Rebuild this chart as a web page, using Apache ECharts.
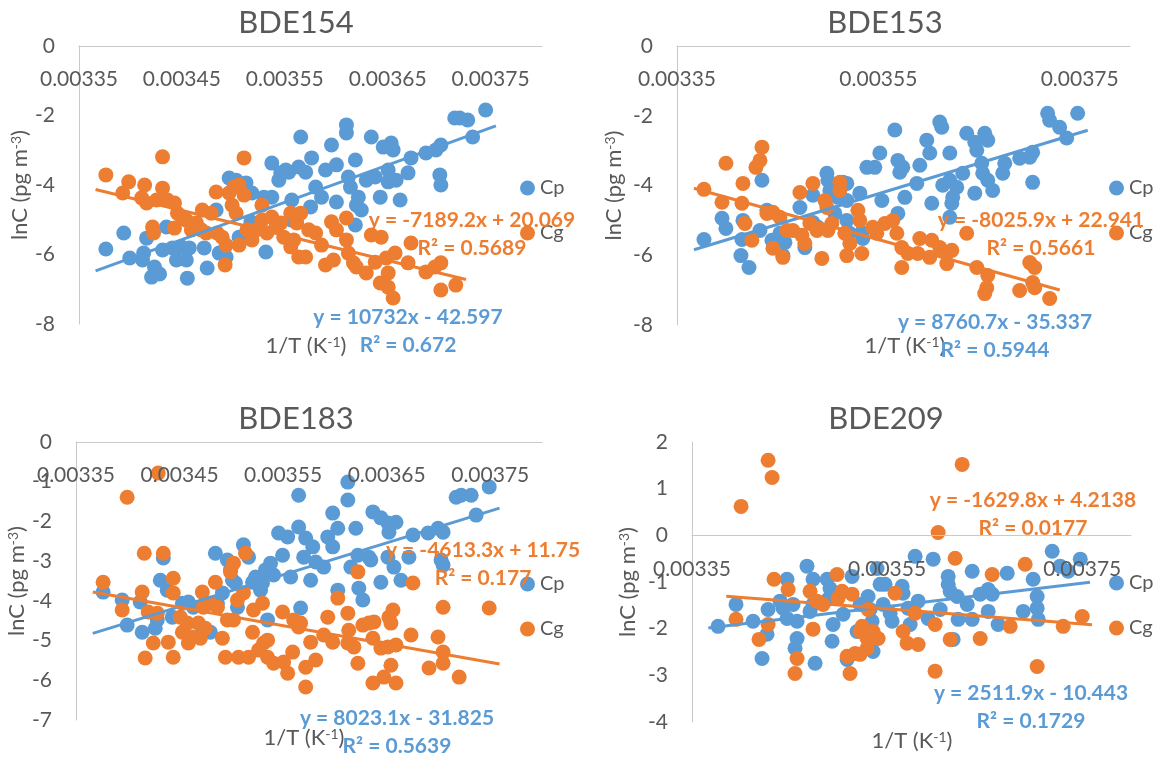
<!DOCTYPE html>
<html>
<head>
<meta charset="utf-8">
<script src="https://cdn.jsdelivr.net/npm/echarts@6/dist/echarts.min.js"></script>
<style>
  html, body { margin: 0; padding: 0; background: #ffffff; }
  #chart { width: 1160px; height: 762px; }
</style>
</head>
<body>
<div id="chart"></div>
<script>
// ---- data: [1/T (K^-1), lnC] pairs per congener and phase ----
const panelTitles = ['BDE154', 'BDE153', 'BDE183', 'BDE209'];

const bde154Cp = [[0.0033761,-5.84],[0.0033935,-5.38],[0.0033993,-6.10],[0.0034157,-5.53],[0.0034128,-5.96],[0.0034118,-6.16],[0.0034234,-6.36],[0.0034205,-6.65],[0.0034283,-6.56],[0.003435,-5.21],[0.0034312,-5.87],[0.0034408,-5.81],[0.0034447,-6.16],[0.0034495,-5.78],[0.0034543,-6.16],[0.0034553,-6.68],[0.0034572,-5.81],[0.0034717,-5.81],[0.0034746,-6.39],[0.0034833,-4.72],[0.0034862,-5.96],[0.003493,-6.07],[0.0034959,-3.80],[0.0035027,-3.86],[0.0035123,-3.94],[0.0035133,-4.20],[0.0035181,-4.23],[0.0035056,-5.50],[0.0035171,-5.06],[0.0035316,-5.93],[0.0035297,-4.35],[0.0035374,-4.35],[0.0035374,-3.37],[0.0035442,-3.86],[0.0035461,-3.65],[0.0035539,-3.63],[0.0035568,-4.43],[0.0035568,-5.01],[0.0035635,-3.48],[0.0035655,-2.62],[0.003551,-3.57],[0.0035761,-3.22],[0.0035703,-3.63],[0.00358,-4.06],[0.0035751,-4.63],[0.0035857,-4.35],[0.0035954,-2.85],[0.0035896,-3.57],[0.0036002,-3.42],[0.0036002,-4.49],[0.0036099,-2.27],[0.0036099,-2.50],[0.0036186,-3.28],[0.0036118,-3.77],[0.0036138,-4.06],[0.0036215,-4.35],[0.0036196,-4.58],[0.0036244,-4.72],[0.0036186,-5.15],[0.0036292,-3.86],[0.0036341,-2.62],[0.0036379,-3.77],[0.0036428,-4.35],[0.0036457,-2.91],[0.0036534,-2.79],[0.0036553,-2.99],[0.0036505,-3.57],[0.0036505,-3.91],[0.0036582,-3.86],[0.0036621,-4.43],[0.0036698,-3.65],[0.0036727,-3.22],[0.0036872,-3.08],[0.0036969,-2.99],[0.0037017,-2.85],[0.0037007,-3.71],[0.0037017,-4.00],[0.0037152,-2.07],[0.00372,-2.07],[0.0037278,-2.13],[0.0037326,-2.62],[0.0037452,-1.84]];

const bde154Cg = [[0.0033761,-3.71],[0.0033925,-4.23],[0.0033983,-3.91],[0.0034138,-4.00],[0.0034109,-4.37],[0.0034157,-4.52],[0.0034215,-5.21],[0.0034225,-5.38],[0.0034254,-4.43],[0.0034312,-3.19],[0.0034312,-4.09],[0.003436,-4.43],[0.0034428,-4.52],[0.0034457,-4.81],[0.0034428,-5.24],[0.0034505,-4.95],[0.0034543,-5.01],[0.0034592,-5.29],[0.003464,-5.09],[0.0034688,-5.29],[0.0034698,-4.72],[0.0034737,-5.38],[0.0034785,-4.81],[0.0034833,-4.20],[0.0034843,-5.38],[0.0034891,-5.50],[0.003493,-5.73],[0.003492,-6.30],[0.0034959,-4.23],[0.0034988,-4.58],[0.0035027,-4.81],[0.0035007,-4.06],[0.0035056,-4.00],[0.0035104,-3.22],[0.0035104,-4.29],[0.0035056,-5.73],[0.0035133,-5.29],[0.0035181,-5.58],[0.003522,-5.29],[0.0035278,-4.58],[0.0035278,-5.01],[0.0035326,-5.38],[0.0035374,-4.92],[0.0035413,-5.21],[0.0035461,-5.09],[0.003549,-5.50],[0.0035558,-4.81],[0.0035558,-5.78],[0.0035616,-5.09],[0.0035635,-6.07],[0.0035655,-4.81],[0.0035587,-5.58],[0.0035732,-5.29],[0.00358,-5.38],[0.0035703,-6.07],[0.0035857,-5.73],[0.0035954,-5.06],[0.0036002,-5.29],[0.0036099,-4.95],[0.0035896,-6.30],[0.0035973,-6.16],[0.0036099,-5.58],[0.0036118,-5.96],[0.0036167,-6.24],[0.0036196,-6.36],[0.0036292,-6.53],[0.0036341,-5.44],[0.0036437,-5.50],[0.0036379,-6.22],[0.0036428,-6.82],[0.0036505,-6.94],[0.0036553,-7.25],[0.0036505,-6.53],[0.0036486,-6.10],[0.0036572,-5.96],[0.0036698,-6.24],[0.0036727,-5.67],[0.0036872,-6.50],[0.0036959,-6.36],[0.0037017,-6.24],[0.0037017,-7.02],[0.0037162,-6.88]];

const bde153Cp = [[0.0033768,-5.55],[0.0033947,-4.94],[0.0033986,-5.23],[0.0034135,-6.01],[0.0034215,-6.35],[0.0034155,-5.00],[0.0034145,-5.55],[0.0034344,-3.85],[0.0034324,-5.29],[0.0034393,-4.71],[0.0034443,-5.57],[0.0034522,-5.37],[0.0034572,-5.63],[0.0034552,-6.01],[0.0034721,-4.63],[0.003477,-5.78],[0.003485,-4.28],[0.003485,-5.06],[0.00349,-5.20],[0.0034989,-3.65],[0.0034999,-3.85],[0.0035019,-4.14],[0.0035098,-4.34],[0.0035068,-4.80],[0.0035148,-3.91],[0.0035187,-3.94],[0.0035187,-4.43],[0.0035187,-5.00],[0.0035217,-5.37],[0.0035316,-4.22],[0.0035336,-5.34],[0.0035346,-5.52],[0.0035386,-3.48],[0.0035465,-3.48],[0.0035515,-3.07],[0.0035535,-4.43],[0.0035664,-2.41],[0.0035694,-3.28],[0.0035743,-3.48],[0.0035713,-3.62],[0.0035763,-4.34],[0.0035694,-4.80],[0.0035882,-3.94],[0.0035912,-3.42],[0.0035981,-2.70],[0.0036011,-3.07],[0.0036031,-4.51],[0.003611,-2.18],[0.003613,-2.33],[0.003614,-3.99],[0.003621,-3.07],[0.003621,-3.85],[0.0036239,-4.34],[0.0036279,-4.05],[0.003623,-4.51],[0.003621,-4.91],[0.0036339,-3.65],[0.0036378,-2.50],[0.0036458,-4.22],[0.0036458,-2.76],[0.0036478,-2.99],[0.0036557,-2.50],[0.0036587,-2.70],[0.0036527,-3.36],[0.0036537,-3.65],[0.0036587,-3.85],[0.0036636,-4.14],[0.0036736,-3.65],[0.0036756,-3.36],[0.0036904,-3.22],[0.0037004,-3.19],[0.0037033,-3.05],[0.0037033,-3.91],[0.0037182,-1.93],[0.0037202,-2.13],[0.0037301,-2.33],[0.0037371,-2.64],[0.003748,-1.93]];

const bde153Cg = [[0.0033768,-4.11],[0.0033986,-3.36],[0.0033947,-4.48],[0.0034155,-3.94],[0.0034145,-4.51],[0.0034175,-5.09],[0.0034244,-5.57],[0.0034344,-2.90],[0.0034324,-3.28],[0.0034284,-3.48],[0.0034393,-4.80],[0.0034453,-4.77],[0.0034522,-4.91],[0.0034453,-5.80],[0.0034552,-6.06],[0.0034592,-5.29],[0.0034651,-5.29],[0.0034721,-4.20],[0.0034741,-5.43],[0.003477,-5.66],[0.003485,-3.94],[0.003482,-5.09],[0.003489,-5.29],[0.0034939,-6.09],[0.0034969,-4.43],[0.0034989,-4.63],[0.0034999,-5.29],[0.0035118,-3.91],[0.0035118,-4.14],[0.0035038,-5.09],[0.0035167,-5.37],[0.0035187,-6.01],[0.0035217,-5.66],[0.0035297,-4.71],[0.0035336,-5.95],[0.0035316,-5.00],[0.0035445,-5.20],[0.0035485,-5.37],[0.0035565,-5.09],[0.0035644,-5.00],[0.0035684,-5.37],[0.0035733,-5.78],[0.0035733,-6.35],[0.0035793,-5.95],[0.0035892,-5.95],[0.0035912,-5.52],[0.0036031,-5.57],[0.0036011,-6.06],[0.003611,-5.78],[0.003618,-5.95],[0.003623,-5.86],[0.003618,-6.24],[0.0036378,-5.37],[0.0036478,-6.35],[0.0036587,-6.58],[0.0036577,-6.93],[0.0036557,-7.10],[0.0036904,-7.01],[0.0037004,-6.21],[0.0037053,-6.35],[0.0037033,-6.78],[0.0037053,-6.93],[0.0037202,-7.24]];

const bde183Cp = [[0.0033762,-3.78],[0.0033946,-3.98],[0.0033994,-4.61],[0.0034139,-4.79],[0.003412,-4.03],[0.0034265,-4.69],[0.0034285,-4.48],[0.0034314,-3.48],[0.0034343,-2.92],[0.0034381,-3.73],[0.003443,-4.41],[0.0034527,-4.06],[0.0034585,-4.03],[0.0034633,-4.16],[0.003473,-4.74],[0.0034798,-4.79],[0.0034846,-2.80],[0.0034866,-4.06],[0.0034914,-3.80],[0.0034962,-2.97],[0.0034992,-3.22],[0.0035011,-3.48],[0.003504,-3.55],[0.0035059,-4.16],[0.0035117,-2.59],[0.0035166,-2.90],[0.0035205,-3.53],[0.0035234,-3.40],[0.0035282,-3.73],[0.0035301,-3.55],[0.003533,-3.22],[0.003535,-4.48],[0.0035379,-3.05],[0.0035408,-3.35],[0.0035456,-2.29],[0.0035544,-2.39],[0.0035495,-2.85],[0.0035573,-3.40],[0.003565,-1.34],[0.003565,-2.14],[0.0035669,-4.18],[0.0035718,-2.42],[0.0035786,-2.64],[0.0035699,-2.90],[0.0035815,-3.02],[0.0035892,-3.15],[0.0035766,-3.48],[0.0035979,-1.79],[0.0035931,-2.39],[0.0036028,-2.17],[0.0035979,-2.64],[0.0036125,-1.01],[0.0036125,-1.46],[0.0036202,-2.17],[0.0036154,-3.15],[0.0036222,-2.85],[0.0036328,-2.90],[0.0036347,-2.97],[0.0036028,-3.73],[0.0036231,-3.68],[0.003627,-3.98],[0.0036367,-1.76],[0.0036444,-1.91],[0.0036512,-2.04],[0.003659,-2.02],[0.0036522,-2.27],[0.0036512,-2.90],[0.003657,-3.15],[0.0036444,-3.53],[0.0036638,-3.48],[0.0036715,-2.90],[0.0036754,-2.34],[0.00369,-2.29],[0.0036996,-2.17],[0.0037045,-2.27],[0.0037025,-2.97],[0.0037045,-3.10],[0.0037171,-1.39],[0.0037219,-1.34],[0.0037316,-1.34],[0.0037364,-1.84],[0.003749,-1.13]];

const bde183Cg = [[0.0033762,-3.53],[0.0033946,-4.23],[0.0033994,-1.39],[0.0034139,-3.78],[0.0034159,-2.80],[0.0034197,-4.28],[0.0034246,-5.06],[0.0034168,-5.44],[0.0034285,-4.31],[0.0034294,-0.78],[0.0034343,-2.80],[0.0034391,-5.04],[0.0034439,-3.43],[0.0034439,-3.80],[0.0034439,-5.42],[0.0034507,-4.41],[0.0034527,-4.79],[0.0034575,-4.56],[0.0034585,-5.06],[0.0034623,-4.91],[0.0034682,-4.56],[0.003472,-3.78],[0.0034701,-4.94],[0.003473,-4.16],[0.0034749,-4.69],[0.0034798,-4.06],[0.0034846,-3.53],[0.0034866,-4.16],[0.0034914,-4.94],[0.0034943,-5.42],[0.0034962,-4.48],[0.0034992,-3.27],[0.0035021,-3.05],[0.0035021,-4.48],[0.0035059,-3.98],[0.0035069,-5.42],[0.0035137,-2.80],[0.0035117,-3.80],[0.0035166,-5.42],[0.0035205,-4.79],[0.0035214,-4.23],[0.0035263,-5.24],[0.0035301,-4.06],[0.0035311,-5.06],[0.003535,-4.99],[0.003535,-5.42],[0.0035408,-5.57],[0.0035495,-4.28],[0.0035544,-5.82],[0.0035592,-5.29],[0.0035602,-4.48],[0.003565,-4.66],[0.0035669,-4.56],[0.0035505,-5.54],[0.0035718,-5.67],[0.0035718,-6.17],[0.0035766,-5.04],[0.0035815,-5.49],[0.0035892,-4.86],[0.0035931,-4.41],[0.0035979,-5.04],[0.0036028,-3.93],[0.0036125,-4.31],[0.0036125,-5.06],[0.0036134,-4.74],[0.0036183,-5.16],[0.0036222,-5.57],[0.0036222,-3.27],[0.003627,-4.61],[0.0036328,-4.56],[0.0036377,-4.53],[0.0036367,-4.94],[0.0036367,-6.07],[0.0036444,-5.19],[0.0036473,-5.92],[0.0036522,-4.41],[0.0036561,-4.23],[0.0036541,-4.56],[0.0036512,-5.16],[0.0036541,-5.62],[0.003659,-6.07],[0.003659,-5.11],[0.0036735,-4.86],[0.0036754,-3.55],[0.0036909,-5.69],[0.0036996,-4.91],[0.0037045,-4.16],[0.0037045,-5.29],[0.0037045,-5.57],[0.00372,-5.92],[0.003749,-4.18]];

const bde209Cp = [[0.0033767,-1.95],[0.0033951,-1.48],[0.0034126,-1.84],[0.0034218,-2.64],[0.0034269,-2.12],[0.003428,-1.59],[0.0034403,-1.41],[0.0034474,-0.94],[0.0034433,-1.56],[0.0034474,-1.78],[0.0034556,-2.42],[0.0034577,-2.21],[0.0034577,-1.84],[0.0034536,-1.48],[0.0034679,-0.66],[0.0034741,-0.94],[0.0034741,-1.48],[0.003471,-1.63],[0.0034762,-2.74],[0.0034885,-0.94],[0.0034915,-1.14],[0.0034895,-1.37],[0.0034946,-1.91],[0.0034936,-2.27],[0.0034997,-1.26],[0.0035049,-1.69],[0.003509,-2.66],[0.0035141,-0.88],[0.0035192,-2.06],[0.0035223,-1.48],[0.0035305,-1.31],[0.0035346,-1.84],[0.0035326,-2.06],[0.0035356,-2.49],[0.0035397,-0.71],[0.0035428,-1.05],[0.0035787,-0.45],[0.0035972,-0.51],[0.0036126,-0.88],[0.0036126,-1.05],[0.0036146,-1.20],[0.0036218,-1.31],[0.0036321,-1.48],[0.0036372,-0.77],[0.0035479,-1.05],[0.0035654,-1.09],[0.0035664,-1.24],[0.0035459,-1.48],[0.0035818,-1.41],[0.0035715,-1.56],[0.0035326,-1.59],[0.0035531,-1.67],[0.0035551,-1.84],[0.0035736,-1.91],[0.003592,-1.78],[0.0036044,-1.59],[0.0036228,-1.80],[0.0036372,-1.80],[0.0036454,-1.26],[0.0036536,-1.16],[0.0036577,-1.26],[0.0036536,-1.63],[0.0036638,-1.91],[0.0036731,-0.81],[0.0036895,-1.63],[0.0036997,-0.94],[0.0037038,-1.31],[0.0037038,-1.56],[0.0037049,-1.80],[0.0037192,-0.34],[0.0037274,-0.66],[0.0037356,-0.77],[0.003748,-0.51],[0.0036177,-2.23]];

const bde209Cg = [[0.0034003,0.62],[0.003428,1.61],[0.0034321,1.24],[0.0033951,-1.80],[0.0034187,-2.23],[0.003428,-1.91],[0.0034341,-0.94],[0.0034485,-1.16],[0.0034577,-2.64],[0.0034556,-2.96],[0.003471,-1.20],[0.0034741,-2.01],[0.0034782,-1.41],[0.0034844,-1.48],[0.0034987,-0.84],[0.0034997,-1.35],[0.0035038,-1.20],[0.0035141,-1.26],[0.003509,-2.59],[0.0035172,-2.53],[0.003512,-2.96],[0.0035244,-1.95],[0.0035295,-2.21],[0.0035305,-1.59],[0.0035356,-2.06],[0.0035408,-2.21],[0.0036269,1.52],[0.0036023,0.06],[0.0036197,-0.49],[0.0036915,-0.62],[0.0036577,-0.84],[0.0035582,-1.24],[0.0035787,-1.67],[0.0035992,-1.91],[0.0035223,-2.06],[0.0035664,-2.06],[0.0035705,-2.31],[0.0035818,-2.34],[0.0036146,-2.23],[0.0036454,-2.21],[0.0036762,-1.95],[0.0037305,-1.95],[0.00375,-1.74],[0.0035295,-2.42],[0.0035992,-2.91],[0.0037038,-2.81],[0.0035223,-2.55]];

// linear fits (y = slope * x + intercept) and their R²
const cpSlope = [10732, 8760.7, 8023.1, 2511.9];
const cpIntercept = [-42.597, -35.337, -31.825, -10.443];
const cpR2 = [0.672, 0.5944, 0.5639, 0.1729];
const cgSlope = [-7189.2, -8025.9, -4613.3, -1629.8];
const cgIntercept = [20.069, 22.941, 11.75, 4.2138];
const cgR2 = [0.5689, 0.5661, 0.177, 0.0177];

// axis ranges and tick spacing
const xMin = 0.00335, xMax = 0.0038, xTickStep = 0.00005;
const xLabelStep = [0.0001, 0.0002, 0.0001, 0.0002];
const yMin = [-8, -8, -7, -4];
const yMax = [0, 0, 0, 2];
const yStep = [2, 2, 1, 1];
const trendPad = 0.00001;   // trendline forecast on both ends

const cpSets = [bde154Cp, bde153Cp, bde183Cp, bde209Cp];
const cgSets = [bde154Cg, bde153Cg, bde183Cg, bde209Cg];

// ---- layout ----
const FONT = 'Lato, "Open Sans", sans-serif';
const TEXT = '#595959';
const AXIS = '#C9C9C9';
const BLUE = '#5B9BD5';
const ORANGE = '#ED7D31';

const gridBoxes = [
  { left: 79,  top: 46,  width: 463, height: 278 },
  { left: 677, top: 46,  width: 453, height: 279 },
  { left: 76,  top: 442, width: 466, height: 278 },
  { left: 692, top: 442, width: 439, height: 280 }
];
const yNameGap = [45, 52, 41, 53];
const xNameAt = [[306, 346], [905, 346], [304, 738], [912, 741]];
const legendBoxes = [
  { left: 520,  top: 178 },
  { left: 1109, top: 178 },
  { left: 520,  top: 574 },
  { left: 1109, top: 573 }
];
const titleAt = [[296, 23], [885, 23], [296, 419], [886, 419]];
const cgLabelAt = [[472, 220], [1041, 220], [483, 550], [1033, 500]];
const cpLabelAt = [[408, 317], [995, 322], [397, 718], [1031, 693]];
const labelLineGap = 28;

function fitLine(points, slope, intercept) {
  const xs = points.map(p => p[0]);
  const lo = Math.min(...xs) - trendPad;
  const hi = Math.max(...xs) + trendPad;
  return [[lo, slope * lo + intercept], [hi, slope * hi + intercept]];
}

function equationText(slope, intercept) {
  return 'y = ' + slope + 'x ' + (intercept < 0 ? '- ' + (-intercept) : '+ ' + intercept);
}

function xLabelFormatter(i) {
  return function (v) {
    const n = (v - xMin) / xLabelStep[i];
    return Math.abs(n - Math.round(n)) < 1e-6 ? v.toFixed(5) : '';
  };
}

const supRich = {
  sup: { fontFamily: FONT, fontSize: 14, fill: TEXT, color: TEXT, verticalAlign: 'top', lineHeight: 14 }
};

const nameStyle = { fontFamily: FONT, fontSize: 22, color: TEXT, rich: supRich };

const grid = gridBoxes.map(b => Object.assign({ containLabel: false, outerBoundsMode: 'none' }, b));

// the horizontal axis crosses at lnC = 0: along the top edge where 0 is the
// maximum, otherwise lifted from the bottom edge up to the zero line
const xAxis = gridBoxes.map((b, i) => {
  const zeroAtTop = yMax[i] === 0;
  const lift = zeroAtTop ? 0 : b.height * (0 - yMin[i]) / (yMax[i] - yMin[i]);
  return {
    gridIndex: i,
    type: 'value',
    min: xMin,
    max: xMax,
    interval: xTickStep,
    position: zeroAtTop ? 'top' : 'bottom',
    offset: -lift,
    z: 5,
    axisLine: { show: true, onZero: false, lineStyle: { color: AXIS, width: 1 } },
    axisTick: { show: false },
    splitLine: { show: false },
    axisLabel: {
      inside: zeroAtTop,
      formatter: xLabelFormatter(i),
      fontFamily: FONT, fontSize: 21, color: TEXT, margin: 23,
      showMinLabel: true, showMaxLabel: true
    }
  };
});

const yAxis = gridBoxes.map((b, i) => ({
  gridIndex: i,
  type: 'value',
  min: yMin[i],
  max: yMax[i],
  interval: yStep[i],
  z: 5,
  axisLine: { show: true, onZero: false, lineStyle: { color: AXIS, width: 1 } },
  axisTick: { show: false },
  splitLine: { show: false },
  axisLabel: { fontFamily: FONT, fontSize: 21, color: TEXT, margin: 24 },
  name: 'lnC (pg m{sup|-3})',
  nameLocation: 'middle',
  nameRotate: 90,
  nameGap: yNameGap[i],
  nameTextStyle: nameStyle
}));

const series = [];
gridBoxes.forEach((b, i) => {
  series.push({
    type: 'scatter', name: 'Cp', xAxisIndex: i, yAxisIndex: i,
    data: cpSets[i], symbol: 'circle', symbolSize: 15,
    itemStyle: { color: BLUE, opacity: 1 }, z: 2
  });
  series.push({
    type: 'scatter', name: 'Cg', xAxisIndex: i, yAxisIndex: i,
    data: cgSets[i], symbol: 'circle', symbolSize: 15,
    itemStyle: { color: ORANGE, opacity: 1 }, z: 2
  });
});
gridBoxes.forEach((b, i) => {
  series.push({
    type: 'line', name: 'Cp linear', xAxisIndex: i, yAxisIndex: i,
    data: fitLine(cpSets[i], cpSlope[i], cpIntercept[i]),
    showSymbol: false, symbol: 'none', silent: true,
    lineStyle: { color: BLUE, width: 3 }, itemStyle: { color: BLUE }, z: 3
  });
  series.push({
    type: 'line', name: 'Cg linear', xAxisIndex: i, yAxisIndex: i,
    data: fitLine(cgSets[i], cgSlope[i], cgIntercept[i]),
    showSymbol: false, symbol: 'none', silent: true,
    lineStyle: { color: ORANGE, width: 3 }, itemStyle: { color: ORANGE }, z: 3
  });
});

const legend = legendBoxes.map(p => ({
  data: ['Cp', 'Cg'],
  orient: 'vertical',
  left: p.left,
  top: p.top,
  padding: 0,
  icon: 'circle',
  itemWidth: 15,
  itemHeight: 15,
  itemGap: 25,
  selectedMode: false,
  textStyle: { fontFamily: FONT, fontSize: 20, color: TEXT }
}));

function textEl(str, at, font, fill, rich) {
  const style = {
    text: str, x: at[0], y: at[1], font: font, fill: fill,
    textAlign: 'center', textVerticalAlign: 'middle',
    align: 'center', verticalAlign: 'middle'
  };
  if (rich) style.rich = rich;
  return { type: 'text', z: 100, silent: true, style: style };
}

const graphic = [];
panelTitles.forEach((t, i) => {
  graphic.push(textEl(t, titleAt[i], '31px ' + FONT, TEXT));
  graphic.push(textEl('1/T (K{sup|-1})', xNameAt[i], '22px ' + FONT, TEXT, supRich));
  const bold = 'bold 21px ' + FONT;
  graphic.push(textEl(equationText(cgSlope[i], cgIntercept[i]), cgLabelAt[i], bold, ORANGE));
  graphic.push(textEl('R² = ' + cgR2[i], [cgLabelAt[i][0], cgLabelAt[i][1] + labelLineGap], bold, ORANGE));
  graphic.push(textEl(equationText(cpSlope[i], cpIntercept[i]), cpLabelAt[i], bold, BLUE));
  graphic.push(textEl('R² = ' + cpR2[i], [cpLabelAt[i][0], cpLabelAt[i][1] + labelLineGap], bold, BLUE));
});

const chart = echarts.init(document.getElementById('chart'), null, { renderer: 'canvas' });
chart.setOption({
  backgroundColor: '#ffffff',
  animation: false,
  textStyle: { fontFamily: FONT },
  grid: grid,
  xAxis: xAxis,
  yAxis: yAxis,
  legend: legend,
  series: series,
  graphic: graphic
});
</script>
</body>
</html>
